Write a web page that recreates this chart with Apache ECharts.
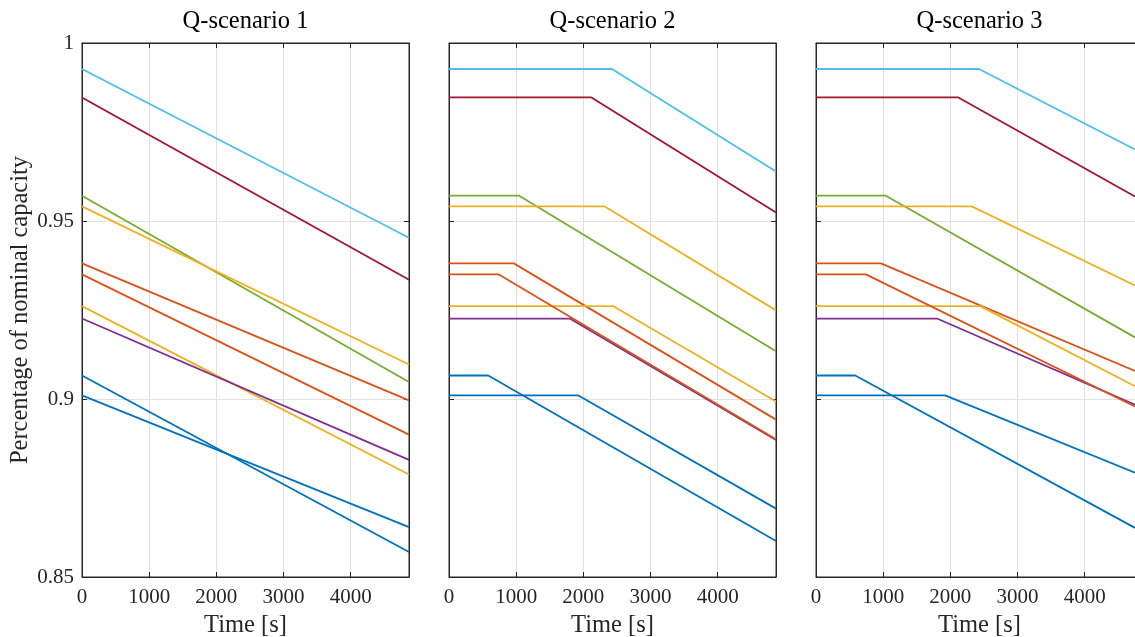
<!DOCTYPE html>
<html>
<head>
<meta charset="utf-8">
<title>Battery capacity under three Q-scenarios</title>
<script src="https://cdn.jsdelivr.net/npm/echarts@6/dist/echarts.min.js"></script>
<style>
  html, body { margin: 0; padding: 0; background: #ffffff; }
  #chart { width: 1135px; height: 637px; }
</style>
</head>
<body>
<div id="chart"></div>
<script>
// ---- data ----------------------------------------------------------------
const panelTitles = ['Q-scenario 1', 'Q-scenario 2', 'Q-scenario 3'];
const cellNames = ['Cell 1', 'Cell 2', 'Cell 3', 'Cell 4', 'Cell 5',
                   'Cell 6', 'Cell 7', 'Cell 8', 'Cell 9', 'Cell 10'];

// Simulation horizon [s]; scenario 3 is shown up to the right edge of the page
const simEnd = 4867;
const simEndQ3 = 4748;

// Initial state of charge of every cell (fraction of nominal capacity)
const initialCapacity = [0.9066, 0.9381, 0.9261, 0.9226, 0.9571,
                         0.9927, 0.9847, 0.9010, 0.9350, 0.9541];

// Scenario 1: every cell discharges from t = 0
const finalCapacityQ1 = [0.8570, 0.8996, 0.8788, 0.8829, 0.9048,
                         0.9453, 0.9335, 0.8640, 0.8900, 0.9097];

// Scenario 2: cell idles until holdUntilQ2, then discharges
const holdUntilQ2 = [584, 965, 2441, 1797, 1045, 2426, 2120, 1927, 743, 2318];
const finalCapacityQ2 = [0.8601, 0.8942, 0.8993, 0.8885, 0.9134,
                         0.9639, 0.9524, 0.8692, 0.8887, 0.9249];

// Scenario 3: same idle phases, different discharge rates
const holdUntilQ3 = [584, 966, 2445, 1800, 1040, 2426, 2119, 1922, 743, 2318];
const finalCapacityQ3 = [0.8638, 0.9079, 0.9036, 0.8984, 0.9173,
                         0.9701, 0.9569, 0.8793, 0.8979, 0.9319];

// ---- styling ------------------------------------------------------------
const lineColors = ['#0072BD', '#D95319', '#EDB120', '#7E2F8E', '#77AC30',
                    '#4DBEEE', '#A2142F', '#0072BD', '#D95319', '#EDB120'];
const FONT = '"Liberation Serif", "DejaVu Serif", serif';
const AXIS_COLOR = '#262626';
const GRID_COLOR = '#e0e0e0';
const LABEL_SIZE = 24.5;
const TICK_SIZE = 21;

const gridLeft = [82, 449, 816];
const gridTop = 43, gridHeight = 534, gridWidth = 327;

// ---- build series ------------------------------------------------------
function profileQ1(i) {
  return [[0, initialCapacity[i]], [simEnd, finalCapacityQ1[i]]];
}
function profileHold(i, hold, finals, tEnd) {
  return [[0, initialCapacity[i]], [hold[i], initialCapacity[i]], [tEnd, finals[i]]];
}

const series = [];
for (let p = 0; p < 3; p++) {
  for (let i = 0; i < cellNames.length; i++) {
    let data;
    if (p === 0) data = profileQ1(i);
    else if (p === 1) data = profileHold(i, holdUntilQ2, finalCapacityQ2, simEnd);
    else data = profileHold(i, holdUntilQ3, finalCapacityQ3, simEndQ3);
    series.push({
      name: cellNames[i],
      type: 'line',
      xAxisIndex: p,
      yAxisIndex: p,
      data: data,
      showSymbol: false,
      symbol: 'none',
      lineStyle: { color: lineColors[i], width: 1.8 },
      itemStyle: { color: lineColors[i] },
      z: 3 + i,
      silent: true
    });
  }
}

const grids = [], xAxes = [], yAxes = [], titles = [];
for (let p = 0; p < 3; p++) {
  grids.push({
    left: gridLeft[p], top: gridTop, width: gridWidth, height: gridHeight,
    outerBoundsMode: 'none', containLabel: false,
    show: true, borderColor: AXIS_COLOR, borderWidth: 1, backgroundColor: '#ffffff'
  });
  titles.push({
    type: 'text',
    x: gridLeft[p] + gridWidth / 2,
    y: 22,
    style: {
      text: panelTitles[p], fill: '#000000', font: LABEL_SIZE + 'px ' + FONT,
      textAlign: 'center', textVerticalAlign: 'middle'
    }
  });
}

const xCommon = {
  type: 'value', min: 0, max: simEnd, interval: 1000,
  axisLine: { show: true, onZero: false, lineStyle: { color: AXIS_COLOR, width: 1 } },
  axisTick: { show: true, inside: true, length: 5, lineStyle: { color: AXIS_COLOR } }
};
const yCommon = {
  type: 'value', min: 0.85, max: 1, interval: 0.05,
  axisLine: { show: true, onZero: false, lineStyle: { color: AXIS_COLOR, width: 1 } },
  axisTick: { show: true, inside: true, length: 5, lineStyle: { color: AXIS_COLOR } }
};

// bottom x axes (indices 0..2) carry labels and grid lines
for (let p = 0; p < 3; p++) {
  xAxes.push(Object.assign({}, xCommon, {
    gridIndex: p, position: 'bottom',
    axisLabel: {
      show: true, margin: 10, fontSize: TICK_SIZE, fontFamily: FONT, color: AXIS_COLOR,
      showMaxLabel: false,
      formatter: function (v) { return String(Math.round(v)); }
    },
    splitLine: { show: true, lineStyle: { color: GRID_COLOR, width: 1 } },
    name: 'Time [s]', nameLocation: 'middle', nameGap: 36,
    nameTextStyle: { fontSize: LABEL_SIZE, fontFamily: FONT, color: AXIS_COLOR }
  }));
}
// top x axes (indices 3..5): ticks only
for (let p = 0; p < 3; p++) {
  xAxes.push(Object.assign({}, xCommon, {
    gridIndex: p, position: 'top',
    axisLabel: { show: false }, splitLine: { show: false }
  }));
}
// left y axes (indices 0..2)
for (let p = 0; p < 3; p++) {
  const ax = Object.assign({}, yCommon, {
    gridIndex: p, position: 'left',
    axisLabel: {
      show: p === 0, margin: 8, fontSize: TICK_SIZE, fontFamily: FONT, color: AXIS_COLOR,
      formatter: function (v) { return String(+v.toFixed(2)); }
    },
    splitLine: { show: true, lineStyle: { color: GRID_COLOR, width: 1 } }
  });
  if (p === 0) {
    ax.name = 'Percentage of nominal capacity';
    ax.nameLocation = 'middle';
    ax.nameGap = 47;
    ax.nameTextStyle = { fontSize: LABEL_SIZE, fontFamily: FONT, color: AXIS_COLOR };
  }
  yAxes.push(ax);
}
// right y axes (indices 3..5): ticks only
for (let p = 0; p < 3; p++) {
  yAxes.push(Object.assign({}, yCommon, {
    gridIndex: p, position: 'right',
    axisLabel: { show: false }, splitLine: { show: false }
  }));
}

const chart = echarts.init(document.getElementById('chart'), null, { renderer: 'canvas' });
chart.setOption({
  backgroundColor: '#ffffff',
  animation: false,
  grid: grids,
  xAxis: xAxes,
  yAxis: yAxes,
  series: series,
  graphic: titles
});
</script>
</body>
</html>
